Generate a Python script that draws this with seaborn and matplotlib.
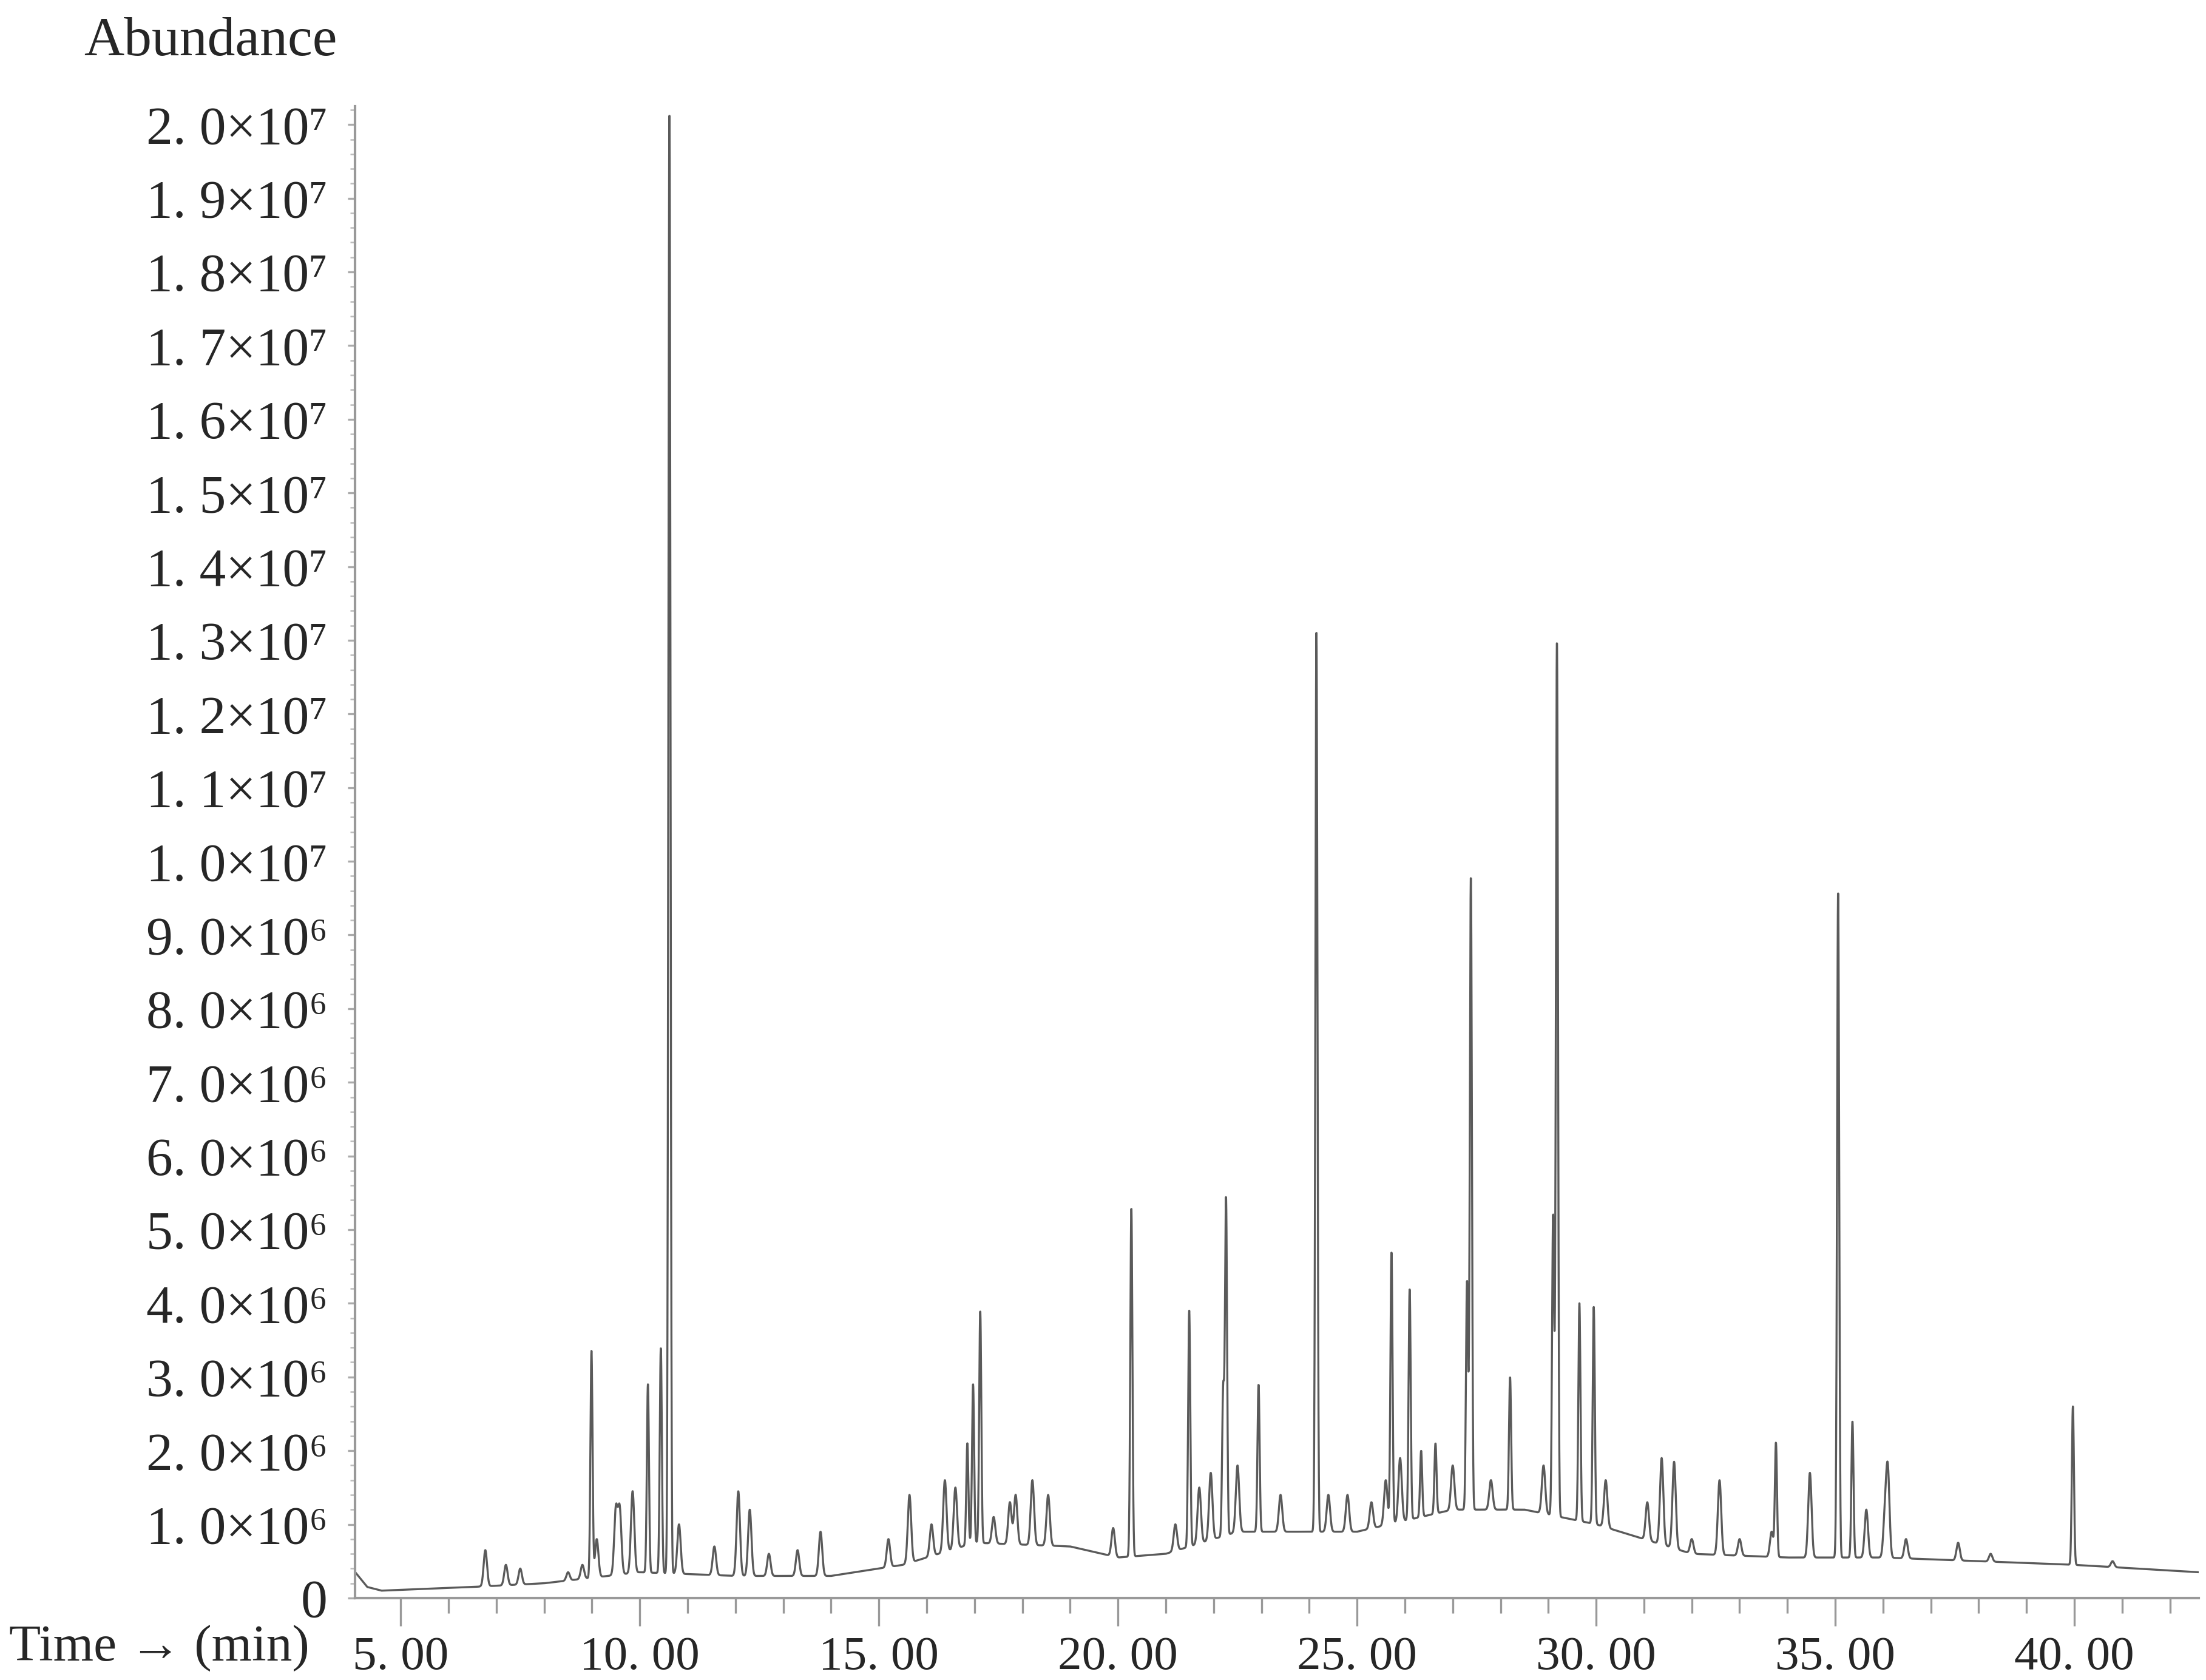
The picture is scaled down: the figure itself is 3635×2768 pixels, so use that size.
import numpy as np
import pandas as pd
import seaborn as sns
import matplotlib
matplotlib.use("Agg")
import matplotlib.pyplot as plt
from matplotlib.ticker import MultipleLocator, FixedLocator

# ---- data ----
baseline_t = [4.05, 4.3, 4.6, 6.5, 8.0, 10.0, 12.0, 14.0, 15.5, 17.0, 19.0, 20.0, 21.0, 22.5, 25.0, 27.0, 28.5, 30.0, 31.0, 32.0, 34.0, 36.0, 38.0, 40.0, 42.6]
baseline_v = [0.35e6, 0.15e6, 0.1e6, 0.15e6, 0.2e6, 0.35e6, 0.3e6, 0.3e6, 0.45e6, 0.75e6, 0.7e6, 0.55e6, 0.6e6, 0.9e6, 0.9e6, 1.2e6, 1.2e6, 1.0e6, 0.8e6, 0.6e6, 0.55e6, 0.55e6, 0.5e6, 0.45e6, 0.35e6]

peak_rt = [6.77, 7.2, 7.5, 8.5, 8.8, 8.99, 9.1, 9.5, 9.58, 9.85, 10.17, 10.44, 10.62, 10.82, 11.56, 12.06, 12.3, 12.7, 13.3, 13.78,
           15.2, 15.64, 16.1, 16.38, 16.6, 16.85, 16.97, 17.12, 17.4, 17.74, 17.86, 18.21, 18.54, 19.9, 20.28,
           21.2, 21.49, 21.7, 21.94, 22.2, 22.26, 22.5, 22.94, 23.4, 24.15, 24.4, 24.8, 25.3, 25.6, 25.72, 25.9, 26.1, 26.34, 26.64,
           27.0, 27.3, 27.38, 27.8, 28.2, 28.9, 29.1, 29.18, 29.65, 29.95, 30.2, 31.07, 31.37, 31.63, 32.0, 32.58, 33.0, 33.67, 33.76,
           34.47, 35.06, 35.36, 35.65, 36.04, 36.1, 36.48, 37.57, 38.25, 39.97, 40.8]
peak_h = [0.65e6, 0.45e6, 0.4e6, 0.35e6, 0.45e6, 3.35e6, 0.8e6, 1.2e6, 1.2e6, 1.45e6, 2.9e6, 3.4e6, 20.2e6, 1.0e6, 0.7e6, 1.45e6, 1.2e6, 0.6e6, 0.65e6, 0.9e6,
          0.8e6, 1.4e6, 1.0e6, 1.6e6, 1.5e6, 2.1e6, 2.9e6, 3.9e6, 1.1e6, 1.3e6, 1.4e6, 1.6e6, 1.4e6, 0.95e6, 5.3e6,
          1.0e6, 3.9e6, 1.5e6, 1.7e6, 2.8e6, 5.4e6, 1.8e6, 2.9e6, 1.4e6, 13.1e6, 1.4e6, 1.4e6, 1.3e6, 1.6e6, 4.7e6, 1.9e6, 4.2e6, 2.0e6, 2.1e6,
          1.8e6, 4.3e6, 9.8e6, 1.6e6, 3.0e6, 1.8e6, 5.2e6, 13.0e6, 4.0e6, 3.95e6, 1.6e6, 1.3e6, 1.9e6, 1.85e6, 0.8e6, 1.6e6, 0.8e6, 0.9e6, 2.1e6,
          1.7e6, 9.6e6, 2.4e6, 1.2e6, 1.1e6, 1.7e6, 0.8e6, 0.75e6, 0.6e6, 2.6e6, 0.5e6]
peak_w = [0.035 if h < 2e6 else 0.022 for h in peak_h]

y_ticks = [i * 1e6 for i in range(21)]
y_labels = ["0"] + [f"{i}. 0×10⁶" for i in range(1, 10)] + \
           [f"{i // 10}. {i % 10}×10⁷" for i in range(10, 21)]
x_ticks = [5, 10, 15, 20, 25, 30, 35, 40]
x_labels = ["5. 00", "10. 00", "15. 00", "20. 00", "25. 00", "30. 00", "35. 00", "40. 00"]

# ---- build trace ----
t = np.arange(4.05, 42.6, 0.004)
base = np.interp(t, baseline_t, baseline_v)
sig = base.copy()
for rt, h, w in zip(peak_rt, peak_h, peak_w):
    b = np.interp(rt, baseline_t, baseline_v)
    sig += max(h - b, 0) * np.exp(-0.5 * ((t - rt) / w) ** 2)
df = pd.DataFrame({"t": t, "abundance": sig})

sns.set_theme(style="white")
plt.rcParams["font.family"] = ["Liberation Serif", "DejaVu Serif"]

fig = plt.figure(figsize=(12.12, 9.2267), dpi=300)
ax = fig.add_axes([0.161, 0.0488, 0.8354, 0.888])
sns.lineplot(data=df, x="t", y="abundance", ax=ax, color="#5a5a5a", linewidth=0.8, estimator=None)
ax.set_xlim(4.05, 42.6)
ax.set_ylim(0, 2.025e7)
for s in ["top", "right"]:
    ax.spines[s].set_visible(False)
for s in ["left", "bottom"]:
    ax.spines[s].set_color("#999999")
    ax.spines[s].set_linewidth(1.0)
ax.set_xticks(x_ticks)
ax.set_xticklabels(x_labels, fontsize=19)
ax.xaxis.set_minor_locator(MultipleLocator(1))
ax.yaxis.set_major_locator(FixedLocator(y_ticks))
ax.set_yticklabels(y_labels, fontsize=21)
ax.yaxis.set_minor_locator(MultipleLocator(2e5))
ax.tick_params(axis="x", which="major", direction="out", length=11, width=0.8, color="#999999", pad=4, bottom=True)
ax.tick_params(axis="x", which="minor", direction="out", length=6, width=0.8, color="#999999", bottom=True)
ax.tick_params(axis="y", which="major", direction="out", length=3, width=0.8, color="#aaaaaa", pad=8, left=True)
ax.tick_params(axis="y", which="minor", direction="out", length=2, width=0.6, color="#bbbbbb", left=True)
ax.set_xlabel("")
ax.set_ylabel("")
fig.text(0.038, 0.975, "Abundance", fontsize=22, ha="left", va="center")
fig.text(0.004, 0.019, "Time → (min)", fontsize=20.5, ha="left", va="center")
fig.savefig("out.png", dpi=300)
